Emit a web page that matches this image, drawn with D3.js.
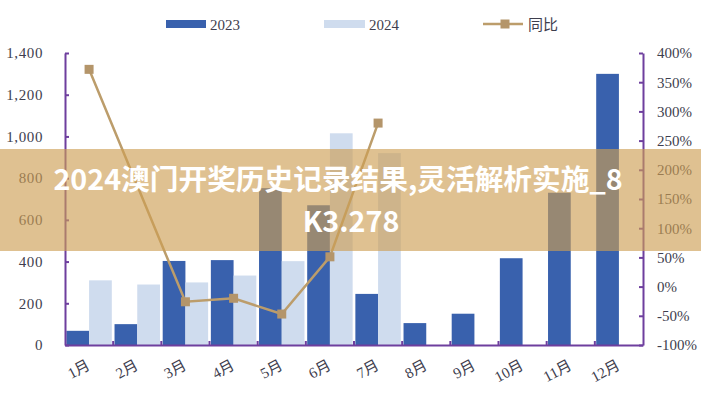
<!DOCTYPE html>
<html><head><meta charset="utf-8">
<script src="https://cdn.jsdelivr.net/npm/d3@7/dist/d3.min.js"></script>
<style>html,body{margin:0;padding:0;background:#fff;}svg{display:block;}</style>
</head><body>
<svg id="c" width="701" height="400"></svg>
<script>
const months = ["1月","2月","3月","4月","5月","6月","7月","8月","9月","10月","11月","12月"];
const v2023 = [68, 100, 403, 407, 752, 670, 245, 105, 150, 416, 730, 1300];
const v2024 = [310, 290, 300, 333, 402, 1015, 920, null, null, null, null, null];
const yoy = [372, null, -26, -20, -47, 51, 280, null, null, null, null, null];
const leftTicks = [0, 200, 400, 600, 800, 1000, 1200, 1400];
const rightTicks = [-100, -50, 0, 50, 100, 150, 200, 250, 300, 350, 400];
const seriesNames = ["2023", "2024", "同比"];
const bannerLines = ["2024澳门开奖历史记录结果,灵活解析实施_8", "K3.278"];

const C1 = "#3961ad", C2 = "#cfdcee", CL = "#bc9d6b", CM = "#b4956a", AX = "#6e3f9e", TX = "#3e3e4e";
const serif = "'Liberation Serif','DejaVu Serif','Noto Sans CJK SC',serif";

const svg = d3.select("#c");
const L = 65, R = 643, T = 53, B = 345;

const x = d3.scaleBand().domain(months).range([L, R]).paddingInner(0).paddingOuter(0);
const xs = d3.scaleBand().domain(["a","b"]).range([0, x.bandwidth()]).paddingInner(0).paddingOuter(0.06);
const y = d3.scaleLinear().domain([0, 1400]).range([B, T]);
const y2 = d3.scaleLinear().domain([-100, 400]).range([B, T]);

// bars
const g = svg.append("g");
g.selectAll("rect.b1").data(months).join("rect")
  .attr("x", d => x(d) + xs("a")).attr("width", xs.bandwidth())
  .attr("y", (d,i) => y(v2023[i])).attr("height", (d,i) => B - y(v2023[i]))
  .attr("fill", C1);
g.selectAll("rect.b2").data(months.filter((d,i) => v2024[i] != null)).join("rect")
  .attr("x", d => x(d) + xs("b")).attr("width", xs.bandwidth())
  .attr("y", (d) => y(v2024[months.indexOf(d)])).attr("height", d => B - y(v2024[months.indexOf(d)]))
  .attr("fill", C2);

// axes
const axL = d3.axisLeft(y).tickValues(leftTicks).tickSizeInner(-4).tickSizeOuter(0).tickPadding(22).tickFormat(d3.format(","));
const axR = d3.axisRight(y2).tickValues(rightTicks).tickSizeInner(-4).tickSizeOuter(0).tickPadding(14).tickFormat(d => d + "%");
const axB = d3.axisBottom(x).tickValues([]).tickSizeOuter(0);

function style(sel) {
  sel.select(".domain").attr("stroke", AX).attr("stroke-width", 2);
  sel.selectAll(".tick line").attr("stroke", AX).attr("stroke-width", 2);
  sel.selectAll(".tick text").attr("fill", TX).attr("font-family", serif).attr("font-size", 15);
}
svg.append("g").attr("transform", `translate(${L},0)`).call(axL).call(style)
  .selectAll(".tick text").attr("letter-spacing", "0.6px");
svg.append("g").attr("transform", `translate(${R},0)`).call(axR).call(style);
const gb = svg.append("g").attr("transform", `translate(0,${B})`).call(axB).call(style);
gb.selectAll("line.bt").data(months.slice(1)).join("line")
  .attr("x1", d => x(d)).attr("x2", d => x(d)).attr("y1", 0).attr("y2", -4)
  .attr("stroke", AX).attr("stroke-width", 2);
gb.selectAll("text.xl").data(months).join("text")
  .attr("transform", d => `translate(${x(d) + x.bandwidth()/2 - 3},${14}) rotate(-28)`)
  .attr("text-anchor", "end").attr("dy", "0.71em")
  .attr("fill", TX).attr("font-family", serif).attr("font-size", 15)
  .text(d => d);

// line
const pts = months.map((m,i) => ({m, v: yoy[i]})).filter(d => d.v != null);
const line = d3.line().x(d => x(d.m) + x.bandwidth()/2).y(d => y2(d.v));
svg.append("path").datum(pts).attr("d", line).attr("fill", "none").attr("stroke", CL).attr("stroke-width", 2.5);
svg.selectAll("rect.mk").data(pts).join("rect")
  .attr("x", d => x(d.m) + x.bandwidth()/2 - 4.5).attr("y", d => y2(d.v) - 4.5)
  .attr("width", 9).attr("height", 9).attr("fill", CM);

// legend
const lg = svg.append("g");
lg.append("rect").attr("x", 166).attr("y", 20).attr("width", 40).attr("height", 8).attr("fill", C1);
lg.append("text").attr("x", 210).attr("y", 30).text(seriesNames[0]);
lg.append("rect").attr("x", 324).attr("y", 20).attr("width", 41).attr("height", 8).attr("fill", C2);
lg.append("text").attr("x", 369).attr("y", 30).text(seriesNames[1]);
lg.append("line").attr("x1", 483).attr("x2", 523).attr("y1", 24).attr("y2", 24).attr("stroke", CL).attr("stroke-width", 2.5);
lg.append("rect").attr("x", 500.5).attr("y", 19.5).attr("width", 9).attr("height", 9).attr("fill", CM);
lg.append("text").attr("x", 528).attr("y", 30).text(seriesNames[2]);
lg.selectAll("text").attr("fill", TX).attr("font-family", serif).attr("font-size", 15);

// banner overlay
svg.append("rect").attr("x", 0).attr("y", 149).attr("width", 701).attr("height", 102)
  .attr("fill", "rgb(205,158,83)").attr("fill-opacity", 0.64);
svg.selectAll("text.bn").data(bannerLines).join("text")
  .attr("x", (d,i) => i === 0 ? 338 : 351).attr("y", (d,i) => 190 + i*42)
  .attr("text-anchor", "middle").attr("fill", "#fff")
  .attr("font-family", "'Noto Sans CJK SC','Noto Sans',sans-serif").attr("font-weight", 700).attr("font-size", 28.7)
  .text(d => d);
</script>
</body></html>
